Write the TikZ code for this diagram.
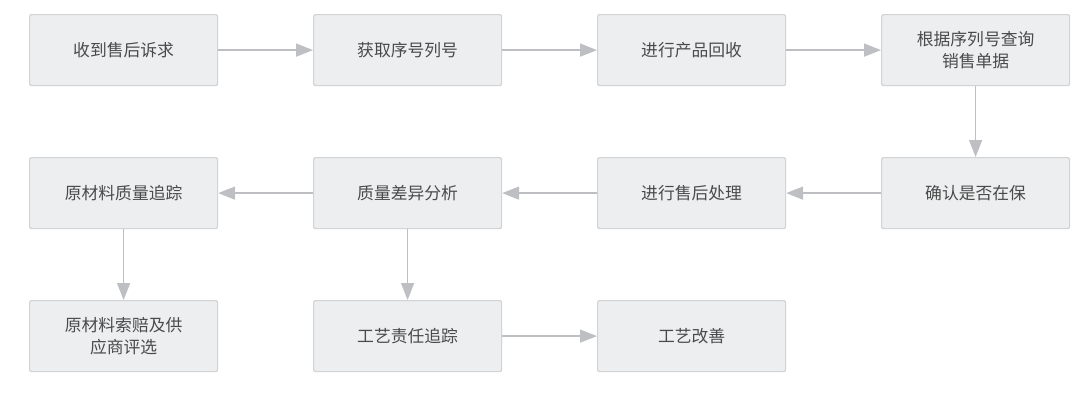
\documentclass[tikz,border=0pt]{standalone}
\usepackage{fontspec}
\setmainfont{Noto Sans CJK SC}
\usetikzlibrary{arrows.meta}
\definecolor{boxfill}{HTML}{EDEEEF}
\definecolor{boxdraw}{HTML}{D2D3D5}
\definecolor{arrowc}{HTML}{BEBFC3}
\definecolor{txt}{HTML}{4A4A4A}
\begin{document}
\begin{tikzpicture}[x=1pt,y=-1pt,
  box/.style={draw=boxdraw,line width=1.2pt,fill=boxfill,rounded corners=2pt,
    minimum width=188pt,minimum height=71pt,inner sep=0pt,anchor=north west,
    align=center,text=txt,font=\fontsize{16.8}{22}\selectfont},
  conn/.style={draw=arrowc,line width=1.6pt,-{Triangle[length=17pt,width=13pt]}}]
\useasboundingbox (0,0) rectangle (1080,416);
\node[box] (a) at (29,14) {收到售后诉求};
\node[box] (b) at (313,14) {获取序号列号};
\node[box] (c) at (597,14) {进行产品回收};
\node[box] (d) at (881,14) {根据序列号查询\\销售单据};
\node[box] (e) at (881,157) {确认是否在保};
\node[box] (f) at (597,157) {进行售后处理};
\node[box] (g) at (313,157) {质量差异分析};
\node[box] (h) at (29,157) {原材料质量追踪};
\node[box] (i) at (29,300) {原材料索赔及供\\应商评选};
\node[box] (j) at (313,300) {工艺责任追踪};
\node[box] (k) at (597,300) {工艺改善};
\draw[conn] (a) -- (b);
\draw[conn] (b) -- (c);
\draw[conn] (c) -- (d);
\draw[conn] (d) -- (e);
\draw[conn] (e) -- (f);
\draw[conn] (f) -- (g);
\draw[conn] (g) -- (h);
\draw[conn] (h) -- (i);
\draw[conn] (g) -- (j);
\draw[conn] (j) -- (k);
\end{tikzpicture}
\end{document}
